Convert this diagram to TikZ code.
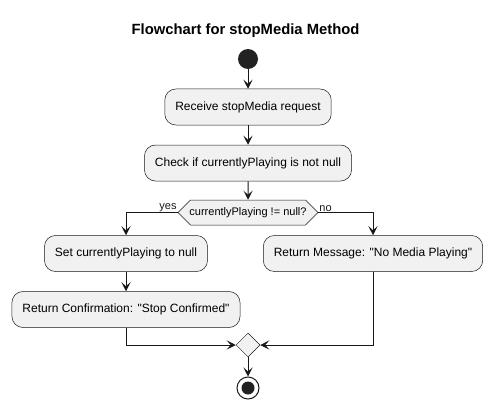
\documentclass[tikz,border=0pt]{standalone}
\usepackage{fontspec}
\setmainfont{Liberation Sans}
\usetikzlibrary{arrows.meta,shapes.geometric,shapes.symbols}
\definecolor{umlfill}{HTML}{F1F1F1}
\definecolor{umlline}{HTML}{181818}
\definecolor{umldot}{HTML}{222222}

\begin{document}
\begin{tikzpicture}[x=1pt,y=-1pt,
    act/.style={draw=umlline, fill=umlfill, rounded corners=11pt, line width=0.5pt,
      minimum height=36pt, inner xsep=10.5pt, font=\fontsize{12}{14}\selectfont},
    flow/.style={-{Stealth[length=9pt,width=9pt,inset=4pt]}, umlline, line width=1pt},
    lab/.style={font=\fontsize{11}{13}\selectfont, inner sep=0.5pt}]

	\useasboundingbox (0,0) rectangle (492,409);

	\node (title) at (245.5,31) {\fontsize{14.8}{17}\selectfont\bfseries Flowchart for stopMedia Method};

	\node[circle, fill=umldot, minimum size=20pt, inner sep=0] (start) at (248,59) {};
	\node[act] (recv) at (248,107) {Receive stopMedia request};
	\node[act] (check) at (248,163) {Check if currentlyPlaying is not null};
	\node[signal, signal to=west and east, signal pointer angle=90, draw=umlline, fill=umlfill,
	  line width=0.5pt, minimum height=25pt, inner xsep=-1pt, font=\fontsize{11}{13}\selectfont]
	  (test) at (248,212.5) {currentlyPlaying != null?};
	\node[act] (setnull) at (126,253.5) {Set currentlyPlaying to null};
	\node[act] (confirm) at (126,309.5) {Return Confirmation: \textquotedbl Stop Confirmed\textquotedbl};
	\node[act] (nomedia) at (373,253.5) {Return Message: \textquotedbl No Media Playing\textquotedbl};
	\node[diamond, draw=umlline, fill=umlfill, line width=0.5pt, minimum size=24pt, inner sep=0]
	  (merge) at (248,345) {};
	\node[circle, draw=umlline, line width=1pt, minimum size=22pt, inner sep=0,
	  path picture={\fill[umldot] (path picture bounding box.center) circle (6.5pt);}]
	  (stop) at (248,388) {};

	% main line
	\draw [flow] (start) -- (recv);
	\draw [flow] (recv) -- (check);
	\draw [flow] (check) -- (test);

	% branches
	\draw [flow] (test.west) node[lab, above left] (yes) {yes} -| (setnull.north);
	\draw [flow] (test.east) node[lab, above right] (no) {no} -| (nomedia.north);
	\draw [flow] (setnull) -- (confirm);

	\draw [flow] (confirm.south) |- (merge.west);
	\draw [flow] (nomedia.south) |- (merge.east);
	\draw [flow] (merge) -- (stop);
\end{tikzpicture}
\end{document}
